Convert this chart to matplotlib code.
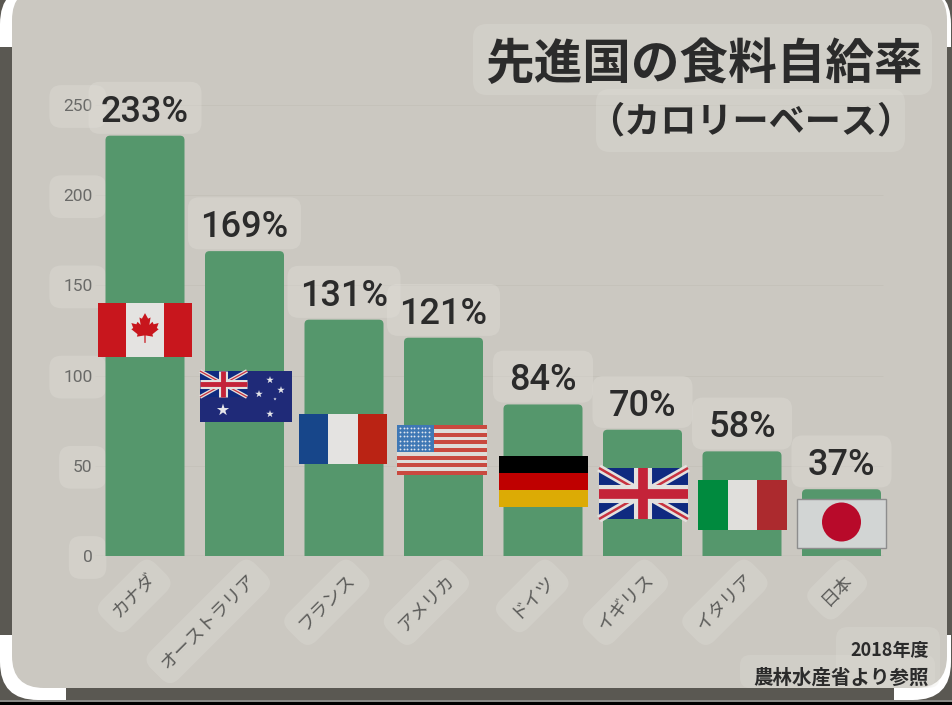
import matplotlib
matplotlib.use("Agg")
import matplotlib.pyplot as plt
import numpy as np
from matplotlib.colors import LinearSegmentedColormap
from matplotlib.patches import FancyBboxPatch, Rectangle, Circle, Polygon
from matplotlib.transforms import ScaledTranslation

JP = ['Noto Sans CJK JP', 'DejaVu Sans']

# data
countries = ['カナダ', 'オーストラリア', 'フランス', 'アメリカ', 'ドイツ', 'イギリス', 'イタリア', '日本']
rates = [233, 169, 131, 121, 84, 70, 58, 37]
y_ticks = [0, 50, 100, 150, 200, 250]
title = '先進国の食料自給率'
subtitle = '（カロリーベース）'
note_year = '2018年度'
note_source = '農林水産省より参照'

# colours
DARK = '#5a5852'
BOX = '#e2e0da'
BAR = '#55976c'
INK = '#2b2b2b'

W, H = 953, 705
fig = plt.figure(figsize=(W / 100, H / 100), dpi=100, facecolor=DARK)


def pixel_axes(z):
    a = fig.add_axes([0, 0, 1, 1], zorder=z)
    a.set_xlim(0, W)
    a.set_ylim(H, 0)
    a.axis('off')
    a.patch.set_alpha(0)
    return a


def round_box(a, x0, y0, x1, y1, r, **kw):
    p = FancyBboxPatch((x0 + r, y0 + r), x1 - x0 - 2 * r, y1 - y0 - 2 * r,
                       boxstyle='round,pad=%f,rounding_size=%f' % (r, r),
                       linewidth=kw.pop('lw', 0), **kw)
    a.add_patch(p)
    return p


# screenshot frame behind the chart
bg = pixel_axes(0)
round_box(bg, 0, -14, 951, 700, 38, fc='white')
bg.add_patch(Rectangle((0, 47), 12, 588, fc=DARK, lw=0))
bg.add_patch(Rectangle((947, 47), 6, 588, fc=DARK, lw=0))
bg.add_patch(Rectangle((66, 680), 828, 21, fc=DARK, lw=0))
bg.add_patch(Rectangle((0, 702), W, 3, fc='black', lw=0))
bg.add_patch(Rectangle((0, 700), W, 2, fc='#8b8b88', lw=0))
panel = round_box(bg, 12, -12, 947, 688, 32, fc='#cbc8c1')
panel_cmap = LinearSegmentedColormap.from_list('panel', ['#c9c6be', '#cfccc5'])
img = bg.imshow(np.linspace(0, 1, 200).reshape(-1, 1), cmap=panel_cmap, aspect='auto',
                extent=(12, 947, 688, -12), interpolation='bilinear')
img.set_clip_path(panel)
bg.set_xlim(0, W)
bg.set_ylim(H, 0)

# main chart, one category = 99.5 px
ax = fig.add_axes([95.25 / W, (H - 556) / H, 796 / W, 451 / H], zorder=1)
ax.patch.set_alpha(0)
ax.set_xlim(-0.5, 7.5)
ax.set_ylim(0, 250)
for s in ax.spines.values():
    s.set_visible(False)
ax.hlines(y_ticks[1:], -0.5, 7.42, color='#c5c2ba', lw=0.7, zorder=1)
ax.hlines(0, -0.5, 7.42, color='#b5b2aa', lw=1, zorder=1)

px_x = 796 / 8
px_y = 451 / 250
aspect = px_x / px_y
for i, v in enumerate(rates):
    ax.add_patch(FancyBboxPatch((i - 0.397, -20), 0.794, v + 20,
                                boxstyle='round,pad=0,rounding_size=0.045',
                                mutation_aspect=aspect, fc=BAR, lw=0, zorder=2))
    # label box sits right on the bar top, narrower for two digits
    box_w = 113 if v >= 100 else 100
    ax.add_patch(FancyBboxPatch((i - box_w / 2 / px_x, v + 1), box_w / px_x, 52 / px_y,
                                boxstyle='round,pad=0,rounding_size=0.11', clip_on=False,
                                mutation_aspect=aspect, fc=BOX, alpha=0.35, lw=0, zorder=3))
    ax.annotate('%d%%' % v, (i, v), xytext=(0, 17), textcoords='offset points',
                ha='center', va='center', family='Roboto', weight='medium', fontsize=26,
                color=INK, zorder=4)

ax.set_yticks(y_ticks)
ax.tick_params(axis='y', length=0, pad=2, labelsize=12.5, labelcolor='#6a6a68')
for t in ax.get_yticklabels():
    t.set_family('Roboto')
    t.set_bbox(dict(boxstyle='round,pad=0.8,rounding_size=0.7', fc=BOX, ec='none', alpha=0.35))

ax.set_xticks(range(len(countries)))
ax.set_xticklabels(countries, rotation=45, ha='right', va='center', rotation_mode='anchor',
                   family=JP, fontsize=13, color='#5c5c5a')
ax.tick_params(axis='x', length=0, pad=15)
shift = ScaledTranslation(6 / 72, 0, fig.dpi_scale_trans)
for t in ax.get_xticklabels():
    t.set_transform(t.get_transform() + shift)
    t.set_bbox(dict(boxstyle='round,pad=0.6,rounding_size=0.7', fc=BOX, ec='none', alpha=0.3))

# flags, title and notes on top
top = pixel_axes(2)


def stripes_v(x0, y0, x1, y1, cols, widths=None):
    widths = widths or [1] * len(cols)
    x = x0
    for c, w in zip(cols, widths):
        dx = (x1 - x0) * w / sum(widths)
        top.add_patch(Rectangle((x, y0), dx, y1 - y0, fc=c, lw=0))
        x += dx


def stripes_h(x0, y0, x1, y1, cols):
    dy = (y1 - y0) / len(cols)
    for i, c in enumerate(cols):
        top.add_patch(Rectangle((x0, y0 + i * dy), x1 - x0, dy, fc=c, lw=0))


def union_jack(x0, y0, x1, y1, scale=1.0):
    clip = Rectangle((x0, y0), x1 - x0, y1 - y0, fc='#0f2a80', lw=0)
    top.add_patch(clip)
    xm, ym = (x0 + x1) / 2, (y0 + y1) / 2
    for seg in ([x0, x1], [y0, y1]), ([x0, x1], [y1, y0]):
        top.plot(*seg, color='#e3e1de', lw=5.5 * scale, solid_capstyle='butt', clip_path=clip)
        top.plot(*seg, color='#c8323f', lw=1.8 * scale, solid_capstyle='butt', clip_path=clip)
    top.plot([xm, xm], [y0, y1], color='#e3e1de', lw=13 * scale, solid_capstyle='butt', clip_path=clip)
    top.plot([x0, x1], [ym, ym], color='#e3e1de', lw=13 * scale, solid_capstyle='butt', clip_path=clip)
    top.plot([xm, xm], [y0, y1], color='#c42339', lw=7 * scale, solid_capstyle='butt', clip_path=clip)
    top.plot([x0, x1], [ym, ym], color='#c42339', lw=7 * scale, solid_capstyle='butt', clip_path=clip)


# Canada
stripes_v(98, 303, 192, 357, ['#c8161d', '#e4e3e1', '#c8161d'], [1, 1.35, 1])
half_leaf = [(0, -24), (5, -15), (9, -17), (7, -5), (12, -10), (14, -6), (22, -8), (19, 0), (22, 2),
             (12, 10), (13, 14), (1, 12), (1, 24)]
leaf = [(145 + 0.62 * a, 328 + 0.62 * b) for a, b in half_leaf]
leaf += [(145 - 0.62 * a, 328 + 0.62 * b) for a, b in half_leaf[::-1]]
top.add_patch(Polygon(leaf, fc='#c8161d', lw=0))

# Australia
top.add_patch(Rectangle((200, 371), 92, 51, fc='#1f2a78', lw=0))
union_jack(200, 371, 247, 397, 0.5)
top.scatter([223, 270, 259, 281, 275, 270], [410, 380, 394, 390, 399, 414],
            s=[85, 32, 32, 32, 6, 32], c='#e6e6ea', marker='*', lw=0)

# France
stripes_v(299, 414, 387, 464, ['#17468a', '#e4e3e1', '#ba2314'])

# USA
stripes_h(397, 425, 487, 475, ['#c9493f', '#dedcd8'] * 6 + ['#c9493f'])
top.add_patch(Rectangle((397, 425), 37, 27, fc='#3f78b5', lw=0))
usx = [400 + 3.6 * k for k in range(9)]
usy = [428 + 4.2 * k for k in range(6)]
top.scatter([a for a in usx for b in usy], [b for a in usx for b in usy], s=1.8, c='#dfe6ee', lw=0)

# Germany
stripes_h(499, 456, 588, 507, ['#000000', '#bf0000', '#dcab05'])

# UK
union_jack(599, 468, 688, 519)

# Italy
stripes_v(698, 480, 787, 530, ['#008a3e', '#e0dfdc', '#ac2a2e'])

# Japan
top.add_patch(Rectangle((797.5, 498.5), 89, 49, fc='#d2d5d4', ec='#8d8d8d', lw=1))
top.add_patch(Circle((841.5, 522), 19.5, fc='#b80a2a', lw=0))

# title
round_box(top, 473, 24, 932, 95, 14, fc=BOX, alpha=0.3)
round_box(top, 596, 89, 905, 152, 14, fc=BOX, alpha=0.3)
top.text(704, 64, title, family=JP, weight='bold', fontsize=35, color=INK, ha='center', va='center')
top.text(751, 122, subtitle, family=JP, weight='bold', fontsize=26, color=INK, ha='center', va='center')

# source note
round_box(top, 836, 627, 940, 688, 12, fc=BOX, alpha=0.25)
round_box(top, 740, 655, 935, 688, 10, fc=BOX, alpha=0.25)
top.text(929, 650, note_year, family=JP, weight='bold', fontsize=13, color=INK, ha='right', va='center')
top.text(929, 678, note_source, family=JP, weight='bold', fontsize=14, color=INK, ha='right', va='center')

fig.savefig('out.png', dpi=100, facecolor=DARK)
